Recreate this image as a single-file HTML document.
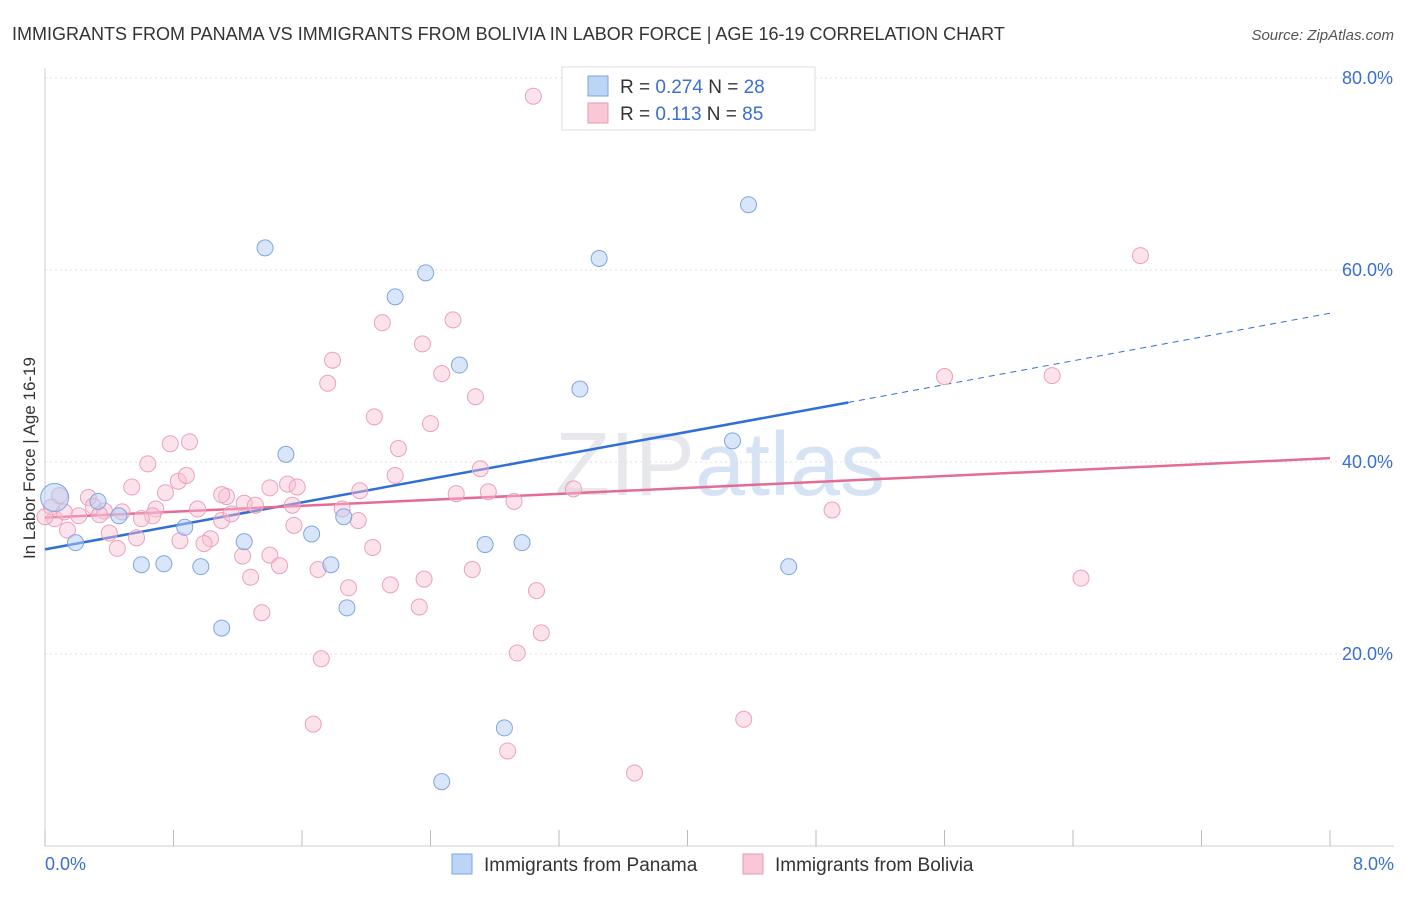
<!DOCTYPE html>
<html><head><meta charset="utf-8"><style>
body{margin:0;background:#fff;font-family:"Liberation Sans",sans-serif;}
svg text{font-family:"Liberation Sans",sans-serif;}
</style></head><body>
<svg id="chart" width="1406" height="892" viewBox="0 0 1406 892">
<text x="12" y="40" font-size="18" fill="#333">IMMIGRANTS FROM PANAMA VS IMMIGRANTS FROM BOLIVIA IN LABOR FORCE | AGE 16-19 CORRELATION CHART</text>
<text x="1394" y="40" font-size="15" fill="#555" font-style="italic" text-anchor="end">Source: ZipAtlas.com</text>
<text x="720" y="495" font-size="90" fill="#e6e8ec" text-anchor="middle" font-family="Liberation Serif">ZIP<tspan fill="#d5e3f5">atlas</tspan></text>
<g id="grid"></g><g id="axes"></g><g id="lines"></g><g id="pts"></g>
<text x="35" y="458" font-size="17" fill="#333" text-anchor="middle" transform="rotate(-90 35 458)">In Labor Force | Age 16-19</text>
<g>
<rect x="562" y="67" width="253" height="63" fill="#fff" stroke="#ddd"/>
<rect x="588" y="76" width="20" height="20" fill="#bcd4f5" stroke="#7aa6e0"/>
<text x="620" y="93" font-size="19" fill="#333">R = <tspan fill="#3a6fd0">0.274</tspan>   N = <tspan fill="#3a6fd0">28</tspan></text>
<rect x="588" y="103" width="20" height="20" fill="#f8c8d6" stroke="#e99ab2"/>
<text x="620" y="120" font-size="19" fill="#333">R =  <tspan fill="#3a6fd0">0.113</tspan>   N = <tspan fill="#3a6fd0">85</tspan></text>
</g>
<g>
<rect x="452" y="854" width="20" height="20" fill="#bcd4f5" stroke="#7aa6e0"/>
<text x="484" y="871" font-size="19" fill="#333">Immigrants from Panama</text>
<rect x="743" y="854" width="20" height="20" fill="#f8c8d6" stroke="#e99ab2"/>
<text x="775" y="871" font-size="19" fill="#333">Immigrants from Bolivia</text>
</g>
</svg>
<script>
const panamaX=[0.06,0.19,0.33,0.46,0.6,0.74,0.87,0.97,1.1,1.24,1.37,1.5,1.66,1.78,1.86,1.88,2.18,2.37,2.58,2.74,2.86,2.97,2.47,3.33,3.45,4.28,4.38,4.63];
const panamaY=[36.3,31.6,35.9,34.4,29.3,29.4,33.2,29.1,22.7,31.7,62.3,40.8,32.5,29.3,34.3,24.8,57.2,59.7,50.1,31.4,12.3,31.6,6.7,47.6,61.2,42.2,66.8,29.1];
const boliviaX=[3.04,6.82,2.54,2.1,2.35,1.79,2.47,1.76,2.68,2.05,5.6,6.27,2.2,0.78,0.9,0.64,2.71,2.18,0.83,0.88,0.54,0.09,0.27,0.3,0.48,0.37,0.21,0.04,0.06,0.12,0.4,0.57,0.69,0.67,0.6,0.45,0.84,0.95,1.03,0.99,1.1,1.13,1.16,1.1,1.24,1.31,1.4,1.51,1.57,1.54,1.55,1.4,1.23,1.28,1.46,1.35,1.7,1.85,1.95,2.04,1.89,2.15,2.36,2.33,2.66,2.76,2.92,3.29,3.06,3.09,2.94,1.72,1.67,2.88,3.67,4.35,4.9,6.45,0.14,0.34,0.75,1.96,2.4,2.56,0.0];
const boliviaY=[78.1,61.5,54.8,54.5,52.3,50.6,49.2,48.2,46.8,44.7,48.9,49.0,41.4,41.9,42.1,39.8,39.3,38.6,38.0,38.6,37.4,36.5,36.3,35.4,34.8,34.9,34.4,35.3,34.1,34.8,32.6,32.1,35.1,34.4,34.1,31.0,31.8,35.1,32.0,31.5,33.9,36.4,34.6,36.6,35.7,35.5,37.3,37.7,37.4,35.5,33.4,30.3,30.2,28.0,29.2,24.3,28.8,35.1,33.9,31.1,26.9,27.2,27.8,24.9,28.8,36.9,35.9,37.2,26.6,22.2,20.1,19.5,12.7,9.9,7.6,13.2,35.0,27.9,32.9,34.5,36.8,37.0,44.0,36.7,34.3];
const trendPanama=[30.9,46.2,55.5]; // at x=0, x=5.0 (solid end), x=8
const trendBolivia=[34.2,40.4]; // at x=0, x=8
const yTicks=[20,40,60,80];
const xTickLabels=["0.0%","8.0%"];
const NS="http://www.w3.org/2000/svg";
const X=v=>45+v/8*1285, Y=v=>846-v/20*192;
function mk(tag,attrs,parent,name){const e=document.createElementNS(NS,tag);for(const k in attrs)e.setAttribute(k,attrs[k]);document.getElementById(parent).appendChild(e);return e;}
yTicks.forEach(t=>{
 const l=mk('line',{x1:45,x2:1394,y1:Y(t),y2:Y(t),stroke:'#e2e2e2','stroke-dasharray':'2,3'},'grid');
 
 
 const tx=mk('text',{x:1393,y:Y(t)+6,'font-size':18,fill:'#3a6fd0','text-anchor':'end'},'grid');
 tx.textContent=t.toFixed(1)+'%';
 
 
});
const ax=mk('line',{x1:45,x2:1394,y1:846,y2:846,stroke:'#ccc'},'axes');


const ay=mk('line',{x1:45,x2:45,y1:68,y2:846,stroke:'#ccc'},'axes');


for(let i=0;i<=10;i++){const t=mk('line',{x1:X(i*0.8),x2:X(i*0.8),y1:830,y2:846,stroke:'#bbb'},'axes');
 
 }
[[0,'start',45],[8,'end',1394]].forEach((p,i)=>{const t=mk('text',{x:p[2],y:870,'font-size':18,fill:'#3a6fd0','text-anchor':p[1]},'axes');t.textContent=xTickLabels[i];
 
 });
boliviaX.forEach((x,i)=>{const c=mk('circle',{cx:X(x),cy:Y(boliviaY[i]),r:8,fill:'rgba(248,190,210,0.45)',stroke:'#eaa2ba','stroke-width':1},'pts');
 
 });
panamaX.forEach((x,i)=>{const c=mk('circle',{cx:X(x),cy:Y(panamaY[i]),r:i==0?14:8,fill:'rgba(180,205,245,0.5)',stroke:'#7fa6de','stroke-width':1},'pts');
 
 });
let l1=mk('line',{x1:X(0),y1:Y(trendPanama[0]),x2:X(5.0),y2:Y(trendPanama[1]),stroke:'#2f6fd6','stroke-width':2.5},'lines');


let l2=mk('line',{x1:X(5.0),y1:Y(trendPanama[1]),x2:X(8),y2:Y(trendPanama[2]),stroke:'#2f6fd6','stroke-width':1,'stroke-dasharray':'6,5'},'lines');


let l3=mk('line',{x1:X(0),y1:Y(trendBolivia[0]),x2:X(8),y2:Y(trendBolivia[1]),stroke:'#e46b94','stroke-width':2.5},'lines');


</script>
</body></html>
